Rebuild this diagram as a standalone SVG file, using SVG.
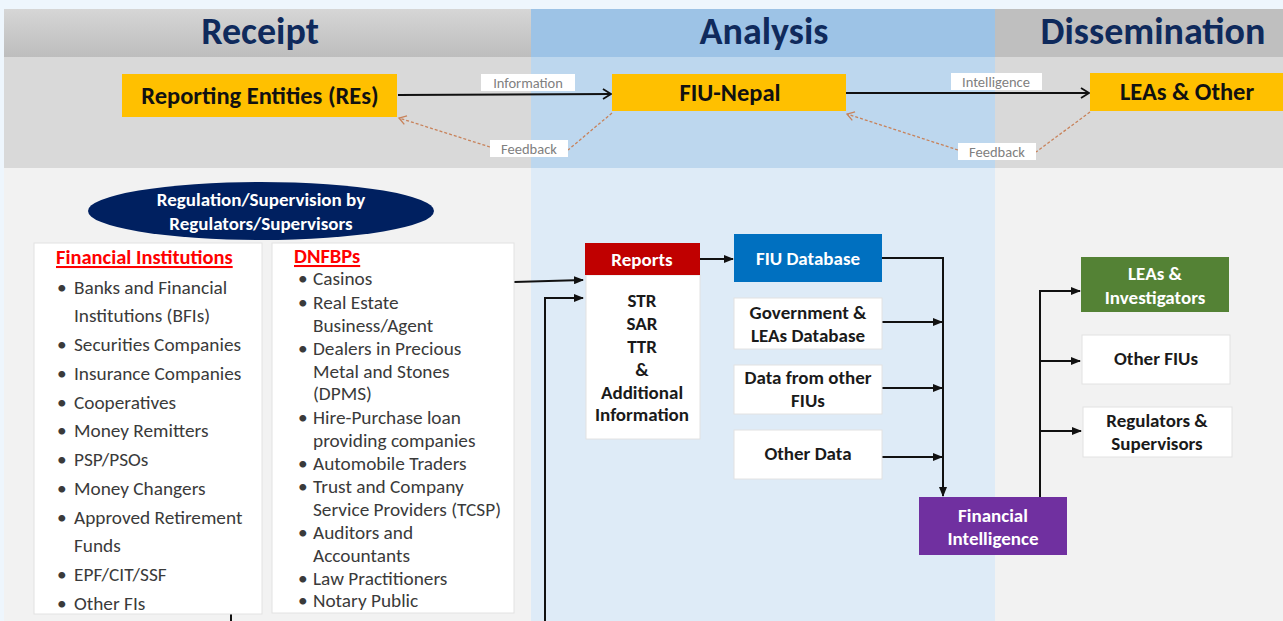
<svg xmlns="http://www.w3.org/2000/svg" width="1283" height="621" viewBox="0 0 1283 621">
  <style>
    text { font-family: "Carlito", "Lato", "Liberation Sans", sans-serif; }
    .hdr { font-size: 38px; font-weight: bold; fill: #0f2a5c; text-anchor: middle; }
    .top { font-size: 24.5px; font-weight: bold; fill: #111; text-anchor: middle; }
    .tag { font-size: 14.5px; fill: #808080; text-anchor: middle; }
    .tagbox { fill: #ffffff; }
    .lst { font-size: 19.3px; fill: #3a3a3a; }
    .red { font-size: 20.5px; font-weight: bold; fill: #ff0000; text-decoration: underline; }
    .bx { font-size: 19px; font-weight: bold; fill: #1a1a1a; text-anchor: middle; }
    .wt { font-size: 19px; font-weight: bold; fill: #ffffff; text-anchor: middle; }
    .card { fill: #ffffff; stroke: #e2e2e2; stroke-width: 1; }
    .ln { fill: none; stroke: #111; stroke-width: 2; }
    .fb { fill: none; stroke: #c8825a; stroke-width: 1.3; stroke-dasharray: 3 2; }
  </style>
  <defs>
    <linearGradient id="gHdr" x1="0" y1="0" x2="0" y2="1">
      <stop offset="0" stop-color="#d6d6d6"/>
      <stop offset="1" stop-color="#bdbdbd"/>
    </linearGradient>
    <marker id="aFill" markerUnits="userSpaceOnUse" markerWidth="10" markerHeight="8" refX="9" refY="4" orient="auto">
      <path d="M0,0 L10,4 L0,8 z" fill="#111"/>
    </marker>
    <marker id="aOpen" markerUnits="userSpaceOnUse" markerWidth="12" markerHeight="12" refX="10" refY="6" orient="auto">
      <path d="M2,1 L10,6 L2,11" fill="none" stroke="#111" stroke-width="1.8"/>
    </marker>
    <marker id="aFb" markerUnits="userSpaceOnUse" markerWidth="12" markerHeight="12" refX="10" refY="6" orient="auto">
      <path d="M3,1.5 L10,6 L3,10.5" fill="none" stroke="#c8825a" stroke-width="1.3"/>
    </marker>
  </defs>

  <!-- page and column bands -->
  <rect x="0" y="0" width="1283" height="621" fill="#eef6fd"/>
  <rect x="4" y="9" width="527" height="48" fill="url(#gHdr)"/>
  <rect x="531" y="9" width="464" height="48" fill="#9dc3e6"/>
  <rect x="995" y="9" width="288" height="48" fill="#bfbfbf"/>
  <rect x="4" y="57" width="527" height="111" fill="#d9d9d9"/>
  <rect x="531" y="57" width="464" height="111" fill="#bdd7ee"/>
  <rect x="995" y="57" width="288" height="111" fill="#d9d9d9"/>
  <rect x="4" y="168" width="527" height="453" fill="#f2f2f2"/>
  <rect x="531" y="168" width="464" height="453" fill="#deebf7"/>
  <rect x="995" y="168" width="288" height="453" fill="#f2f2f2"/>

  <text class="hdr" x="260" y="44">Receipt</text>
  <text class="hdr" x="764" y="44">Analysis</text>
  <text class="hdr" x="1153" y="44">Dissemination</text>

  <!-- connectors -->
  <g id="connectors">
    <line class="ln" x1="398" y1="95" x2="611" y2="94" marker-end="url(#aOpen)"/>
    <line class="ln" x1="846" y1="93" x2="1089" y2="93" marker-end="url(#aOpen)"/>
    <polyline class="fb" points="612,113 568,150"/>
    <line class="fb" x1="490" y1="147" x2="399" y2="118" marker-end="url(#aFb)"/>
    <polyline class="fb" points="1090,112 1036,152"/>
    <line class="fb" x1="958" y1="150" x2="847" y2="114" marker-end="url(#aFb)"/>

    <line class="ln" x1="514" y1="282" x2="583" y2="280" marker-end="url(#aFill)"/>
    <polyline class="ln" points="545,621 545,298 583,298" marker-end="url(#aFill)"/>
    <line class="ln" x1="231" y1="614" x2="231" y2="621"/>
    <line class="ln" x1="700" y1="259" x2="733" y2="259" marker-end="url(#aFill)"/>

    <polyline class="ln" points="882,258 943,258 943,496" marker-end="url(#aFill)"/>
    <line class="ln" x1="882" y1="322" x2="942" y2="322" marker-end="url(#aFill)"/>
    <line class="ln" x1="882" y1="388" x2="942" y2="388" marker-end="url(#aFill)"/>
    <line class="ln" x1="882" y1="457" x2="942" y2="457" marker-end="url(#aFill)"/>

    <polyline class="ln" points="1040,497 1040,291 1080,291" marker-end="url(#aFill)"/>
    <line class="ln" x1="1040" y1="361" x2="1080" y2="361" marker-end="url(#aFill)"/>
    <line class="ln" x1="1040" y1="431" x2="1081" y2="431" marker-end="url(#aFill)"/>
  </g>

  <!-- flow labels -->
  <g id="lbl-information">
    <rect class="tagbox" x="481" y="74" width="94" height="17"/>
    <text class="tag" x="528" y="88">Information</text>
  </g>
  <g id="lbl-intelligence">
    <rect class="tagbox" x="951" y="73" width="91" height="17"/>
    <text class="tag" x="996" y="87">Intelligence</text>
  </g>
  <g id="lbl-feedback-1">
    <rect class="tagbox" x="490" y="140" width="78" height="17"/>
    <text class="tag" x="529" y="154">Feedback</text>
  </g>
  <g id="lbl-feedback-2">
    <rect class="tagbox" x="958" y="143" width="78" height="17"/>
    <text class="tag" x="997" y="157">Feedback</text>
  </g>

  <!-- top row -->
  <g id="reporting-entities">
    <rect x="122" y="74" width="275" height="43" fill="#ffc000"/>
    <text class="top" x="260" y="104">Reporting Entities (REs)</text>
  </g>
  <g id="fiu-nepal">
    <rect x="612" y="74" width="234" height="37" fill="#ffc000"/>
    <text class="top" x="730" y="101">FIU-Nepal</text>
  </g>
  <g id="leas-other">
    <rect x="1090" y="73" width="193" height="38" fill="#ffc000"/>
    <text class="top" x="1187" y="100">LEAs &amp; Other</text>
  </g>

  <!-- regulation -->
  <g id="regulation">
    <ellipse cx="261" cy="211" rx="173" ry="29" fill="#002060"/>
    <text class="wt" x="261" y="206">Regulation/Supervision by</text>
    <text class="wt" x="261" y="230">Regulators/Supervisors</text>
  </g>

  <g id="financial-institutions">
    <rect class="card" x="34" y="243" width="228" height="371"/>
    <text class="red" x="56" y="264">Financial Institutions</text>
    <g class="lst">
      <text x="57" y="294">•</text><text x="74" y="294">Banks and Financial</text>
      <text x="74" y="322">Institutions (BFIs)</text>
      <text x="57" y="351">•</text><text x="74" y="351">Securities Companies</text>
      <text x="57" y="380">•</text><text x="74" y="380">Insurance Companies</text>
      <text x="57" y="409">•</text><text x="74" y="409">Cooperatives</text>
      <text x="57" y="437">•</text><text x="74" y="437">Money Remitters</text>
      <text x="57" y="466">•</text><text x="74" y="466">PSP/PSOs</text>
      <text x="57" y="495">•</text><text x="74" y="495">Money Changers</text>
      <text x="57" y="524">•</text><text x="74" y="524">Approved Retirement</text>
      <text x="74" y="552">Funds</text>
      <text x="57" y="581">•</text><text x="74" y="581">EPF/CIT/SSF</text>
      <text x="57" y="610">•</text><text x="74" y="610">Other FIs</text>
    </g>
  </g>

  <g id="dnfbps">
    <rect class="card" x="272" y="243" width="242" height="370"/>
    <text class="red" x="294" y="263">DNFBPs</text>
    <g class="lst">
      <text x="298" y="285">•</text><text x="313" y="285">Casinos</text>
      <text x="298" y="309">•</text><text x="313" y="309">Real Estate</text>
      <text x="313" y="332">Business/Agent</text>
      <text x="298" y="355">•</text><text x="313" y="355">Dealers in Precious</text>
      <text x="313" y="378">Metal and Stones</text>
      <text x="313" y="400">(DPMS)</text>
      <text x="298" y="424">•</text><text x="313" y="424">Hire-Purchase loan</text>
      <text x="313" y="447">providing companies</text>
      <text x="298" y="470">•</text><text x="313" y="470">Automobile Traders</text>
      <text x="298" y="493">•</text><text x="313" y="493">Trust and Company</text>
      <text x="313" y="516">Service Providers (TCSP)</text>
      <text x="298" y="539">•</text><text x="313" y="539">Auditors and</text>
      <text x="313" y="562">Accountants</text>
      <text x="298" y="585">•</text><text x="313" y="585">Law Practitioners</text>
      <text x="298" y="607">•</text><text x="313" y="607">Notary Public</text>
    </g>
  </g>

  <!-- analysis -->
  <g id="reports">
    <rect class="card" x="586" y="275" width="114" height="164"/>
    <rect x="585" y="243" width="115" height="32" fill="#c00000"/>
    <text class="wt" x="642" y="266">Reports</text>
    <text class="bx" x="642" y="307">STR</text>
    <text class="bx" x="642" y="330">SAR</text>
    <text class="bx" x="642" y="353">TTR</text>
    <text class="bx" x="642" y="376">&amp;</text>
    <text class="bx" x="642" y="399">Additional</text>
    <text class="bx" x="642" y="421">Information</text>
  </g>
  <g id="fiu-database">
    <rect x="734" y="234" width="148" height="48" fill="#0070c0"/>
    <text class="wt" x="808" y="265">FIU Database</text>
  </g>
  <g id="gov-leas-database">
    <rect class="card" x="734" y="298" width="148" height="51"/>
    <text class="bx" x="808" y="319">Government &amp;</text>
    <text class="bx" x="808" y="342">LEAs Database</text>
  </g>
  <g id="other-fius-data">
    <rect class="card" x="734" y="365" width="148" height="49"/>
    <text class="bx" x="808" y="384">Data from other</text>
    <text class="bx" x="808" y="407">FIUs</text>
  </g>
  <g id="other-data">
    <rect class="card" x="734" y="430" width="148" height="49"/>
    <text class="bx" x="808" y="460">Other Data</text>
  </g>
  <g id="financial-intelligence">
    <rect x="919" y="497" width="148" height="58" fill="#7030a0"/>
    <text class="wt" x="993" y="522">Financial</text>
    <text class="wt" x="993" y="545">Intelligence</text>
  </g>

  <!-- dissemination -->
  <g id="leas-investigators">
    <rect x="1081" y="257" width="148" height="55" fill="#548235"/>
    <text class="wt" x="1155" y="280">LEAs &amp;</text>
    <text class="wt" x="1155" y="304">Investigators</text>
  </g>
  <g id="other-fius">
    <rect class="card" x="1082" y="335" width="148" height="49"/>
    <text class="bx" x="1156" y="365">Other FIUs</text>
  </g>
  <g id="regulators-supervisors">
    <rect class="card" x="1083" y="407" width="149" height="50"/>
    <text class="bx" x="1157" y="427">Regulators &amp;</text>
    <text class="bx" x="1157" y="450">Supervisors</text>
  </g>
</svg>
